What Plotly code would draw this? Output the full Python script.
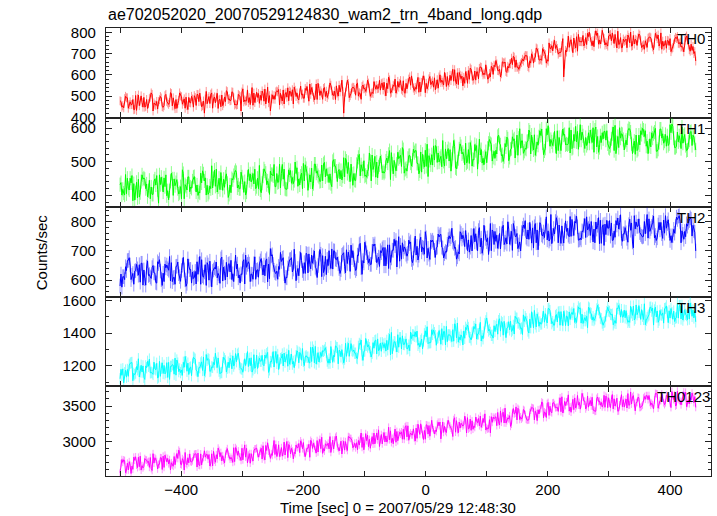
import numpy as np
import plotly.graph_objects as go
from plotly.subplots import make_subplots

# Time (sec), 0 = 2007/05/29 12:48:30.  Samples read on four interleaved grids (1.5 s apart overall).
time_a = np.arange(-500, 443, 6)      # -500 ... 442
time_c = np.arange(-498.5, 440, 6)    # -498.5 ... 437.5
time_b = np.arange(-497, 440, 6)      # -497 ... 439
time_d = np.arange(-495.5, 441, 6)    # -495.5 ... 440.5

th0_a = [478, 445, 492, 460, 438, 505, 470, 452, 488, 430, 475, 498, 455, 468, 512, 441, 480, 462, 495, 470,
         448, 508, 476, 420, 490, 515, 468, 482, 455, 525, 478, 492, 460, 430, 482, 470, 540, 488, 466, 512,
         495, 430, 502, 520, 485, 510, 478, 530, 498, 515, 490, 545, 508, 482, 560, 515, 498, 532, 505, 548,
         520, 420, 575, 512, 530, 500, 545, 522, 538, 512, 550, 528, 565, 535, 518, 580, 542, 525, 560, 590,
         538, 555, 520, 575, 548, 562, 530, 590, 565, 545, 598, 570, 610, 582, 560, 620, 595, 575, 630, 600,
         618, 590, 645, 620, 605, 660, 632, 648, 670, 640, 665, 690, 655, 680, 705, 668, 695, 750, 712, 738,
         705, 590, 730, 765, 742, 790, 755, 775, 800, 760, 785, 745, 770, 735, 760, 790, 742, 728, 768, 750,
         785, 738, 760, 720, 772, 748, 795, 735, 758, 725, 770, 745, 780, 730, 762, 740, 715, 665]
th0_b = [448, 499, 460, 484, 433, 477, 494, 442, 515, 459, 474, 451, 508, 470, 492, 442, 501, 487, 437, 499,
         493, 474, 455, 522, 465, 487, 513, 450, 496, 484, 520, 463, 503, 534, 478, 460, 514, 494, 480, 533,
         469, 506, 520, 458, 529, 495, 519, 542, 488, 506, 536, 476, 523, 557, 503, 536, 493, 551, 523, 500,
         575, 518, 493, 542, 557, 511, 534, 575, 512, 548, 537, 562, 501, 576, 551, 530, 573, 517, 562, 595,
         541, 518, 575, 560, 592, 542, 577, 564, 611, 551, 598, 571, 611, 548, 597, 632, 580, 614, 635, 601,
         582, 635, 667, 626, 657, 611, 652, 683, 637, 658, 691, 633, 688, 726, 670, 710, 671, 724, 762, 697,
         737, 715, 729, 704, 779, 756, 736, 795, 756, 785, 744, 809, 751, 787, 769, 726, 775, 757, 787, 735,
         767, 792, 736, 746, 778, 718, 770, 797, 739, 760, 722, 776, 746, 728, 782, 711, 700]
th0_c = [475, 488, 443, 460, 503, 455, 448, 484, 495, 468, 439, 491, 502, 461, 454, 484, 515, 476, 455, 468,
         502, 507, 450, 486, 498, 443, 495, 485, 467, 521, 480, 458, 508, 519, 476, 493, 457, 518, 504, 476,
         542, 490, 485, 531, 477, 517, 524, 463, 515, 547, 490, 511, 540, 504, 536, 485, 523, 562, 503, 515,
         539, 496, 559, 538, 504, 516, 552, 537, 499, 568, 535, 558, 521, 589, 535, 514, 560, 572, 534, 551,
         526, 588, 564, 516, 581, 571, 555, 600, 552, 592, 573, 624, 554, 594, 615, 579, 574, 614, 637, 608,
         580, 640, 638, 619, 661, 616, 652, 687, 635, 651, 683, 639, 699, 682, 670, 723, 655, 724, 744, 724,
         706, 650, 782, 731, 726, 756, 785, 742, 774, 732, 796, 765, 740, 783, 797, 754, 745, 768, 727, 801,
         745, 773, 728, 760, 776, 731, 781, 747, 735, 762, 709, 767, 748, 734, 775, 718, 733]
th0_d = [455, 492, 473, 436, 488, 501, 448, 464, 508, 457, 483, 447, 475, 516, 454, 466, 497, 443, 494, 486,
         456, 514, 477, 464, 509, 496, 442, 505, 474, 488, 518, 458, 497, 473, 529, 489, 470, 512, 524, 463,
         502, 486, 524, 513, 463, 539, 499, 527, 482, 510, 527, 557, 494, 484, 525, 540, 506, 524, 484, 551,
         522, 543, 502, 540, 561, 485, 537, 561, 518, 533, 574, 529, 561, 514, 546, 569, 532, 513, 580, 560,
         532, 566, 595, 534, 554, 586, 537, 575, 589, 564, 626, 558, 598, 588, 560, 626, 618, 581, 613, 647,
         606, 602, 651, 590, 655, 640, 678, 635, 626, 673, 689, 666, 655, 722, 674, 699, 664, 737, 724, 704,
         770, 707, 755, 773, 711, 756, 747, 780, 737, 807, 763, 776, 742, 789, 747, 805, 727, 761, 776, 737,
         763, 786, 741, 729, 774, 749, 787, 720, 761, 738, 728, 771, 753, 708, 762, 744, 709]

th1_a = [432, 407, 451, 437, 386, 448, 461, 420, 445, 403, 459, 432, 452, 414, 466, 429, 404, 476, 427, 411,
         454, 431, 466, 443, 403, 488, 427, 451, 415, 464, 431, 459, 422, 469, 441, 477, 447, 420, 489, 457,
         432, 472, 492, 438, 465, 420, 476, 453, 465, 431, 495, 466, 440, 493, 459, 490, 455, 438, 501, 472,
         449, 512, 465, 493, 445, 513, 479, 460, 526, 477, 499, 517, 466, 496, 527, 478, 509, 542, 480, 519,
         537, 495, 529, 484, 456, 521, 548, 499, 563, 509, 536, 563, 500, 545, 491, 536, 487, 533, 567, 510,
         497, 554, 531, 575, 518, 554, 503, 574, 541, 598, 525, 560, 523, 580, 549, 597, 540, 581, 548, 524,
         544, 579, 550, 594, 561, 537, 588, 572, 555, 601, 544, 577, 590, 553, 568, 608, 542, 581, 564, 597,
         548, 533, 592, 575, 524, 586, 599, 557, 583, 546, 610, 570, 588, 539, 581, 559, 548, 535]
th1_b = [401, 462, 416, 384, 439, 408, 452, 396, 425, 449, 377, 435, 461, 414, 400, 447, 426, 390, 455, 421,
         434, 411, 473, 401, 428, 450, 410, 468, 424, 394, 450, 474, 420, 438, 410, 464, 434, 451, 408, 472,
         429, 462, 426, 493, 448, 418, 474, 444, 427, 466, 491, 444, 419, 466, 441, 494, 459, 435, 487, 472,
         446, 510, 461, 430, 492, 458, 503, 471, 443, 516, 485, 467, 502, 533, 464, 493, 519, 466, 510, 487,
         533, 464, 522, 486, 504, 547, 498, 516, 487, 539, 507, 482, 538, 528, 496, 557, 505, 478, 536, 515,
         555, 502, 534, 554, 501, 573, 537, 568, 519, 562, 540, 594, 552, 537, 592, 521, 580, 566, 590, 533,
         572, 550, 601, 542, 559, 610, 548, 555, 575, 594, 528, 586, 564, 539, 603, 557, 570, 535, 592, 553,
         522, 579, 599, 546, 568, 583, 531, 597, 561, 548, 612, 542, 577, 555, 533, 588, 572]
th1_c = [438, 401, 421, 459, 408, 395, 448, 434, 390, 442, 417, 454, 426, 387, 449, 438, 408, 465, 416, 425,
         456, 400, 437, 452, 409, 422, 478, 417, 448, 436, 408, 468, 431, 455, 401, 444, 465, 426, 416, 479,
         443, 462, 426, 440, 492, 418, 461, 435, 482, 457, 443, 415, 481, 493, 454, 443, 479, 464, 506, 441,
         474, 455, 498, 463, 444, 522, 472, 454, 501, 489, 452, 500, 471, 522, 493, 473, 514, 536, 472, 496,
         527, 495, 469, 534, 518, 490, 544, 510, 501, 530, 472, 545, 509, 523, 555, 495, 507, 548, 520, 491,
         540, 551, 510, 579, 521, 544, 513, 563, 579, 540, 531, 561, 579, 519, 574, 556, 598, 546, 566, 592,
         533, 581, 553, 539, 605, 564, 577, 548, 594, 528, 575, 557, 590, 542, 583, 524, 601, 566, 550, 588,
         561, 537, 581, 592, 546, 570, 531, 597, 555, 577, 586, 542, 559, 603, 548, 564, 579]
th1_d = [418, 405, 451, 435, 393, 441, 448, 414, 403, 431, 461, 410, 399, 442, 449, 420, 390, 432, 455, 443,
         410, 407, 464, 430, 420, 475, 425, 437, 455, 403, 446, 468, 420, 409, 454, 440, 478, 420, 436, 466,
         403, 458, 465, 422, 478, 440, 436, 499, 449, 420, 480, 461, 435, 473, 443, 498, 462, 426, 487, 477,
         457, 502, 441, 465, 501, 491, 457, 478, 520, 454, 491, 471, 511, 447, 504, 528, 486, 477, 518, 505,
         533, 473, 500, 552, 491, 505, 526, 485, 538, 502, 525, 479, 553, 517, 500, 542, 551, 515, 496, 530,
         566, 513, 523, 550, 515, 568, 539, 511, 570, 562, 537, 588, 535, 559, 578, 532, 607, 559, 546, 572,
         597, 553, 526, 581, 590, 564, 539, 586, 557, 603, 542, 568, 592, 548, 533, 575, 583, 559, 599, 524,
         579, 550, 594, 561, 544, 588, 537, 570, 581, 553, 605, 546, 564, 577, 535, 590, 555]

th2_a = [580, 612, 667, 602, 631, 617, 658, 583, 619, 650, 590, 631, 595, 639, 660, 586, 622, 651, 579, 636,
         606, 663, 586, 628, 652, 577, 638, 615, 597, 661, 628, 595, 655, 622, 587, 663, 620, 603, 656, 618,
         673, 708, 634, 603, 664, 590, 656, 628, 598, 674, 623, 689, 639, 700, 650, 612, 682, 701, 638, 670,
         623, 694, 657, 720, 642, 684, 620, 710, 673, 723, 660, 701, 649, 721, 676, 718, 749, 728, 689, 725,
         675, 716, 747, 689, 709, 731, 678, 748, 710, 696, 742, 726, 680, 760, 715, 738, 700, 759, 780, 710,
         732, 794, 722, 709, 759, 730, 775, 702, 749, 731, 789, 741, 768, 783, 704, 755, 785, 734, 753, 814,
         742, 727, 778, 750, 801, 737, 769, 746, 793, 731, 775, 805, 719, 778, 796, 747, 775, 733, 762, 809,
         711, 784, 756, 801, 744, 784, 753, 798, 743, 778, 736, 774, 808, 728, 767, 798, 751, 700]
th2_b = [576, 646, 677, 623, 654, 593, 635, 666, 606, 624, 657, 582, 642, 681, 608, 648, 596, 635, 673, 590,
         630, 654, 615, 582, 665, 635, 608, 673, 624, 654, 602, 686, 618, 664, 644, 595, 656, 636, 674, 615,
         655, 687, 623, 637, 677, 608, 671, 706, 640, 667, 623, 690, 658, 639, 705, 626, 671, 640, 700, 656,
         685, 625, 678, 701, 639, 726, 659, 679, 654, 724, 679, 707, 649, 721, 702, 645, 719, 714, 692, 671,
         751, 685, 713, 745, 671, 728, 713, 757, 691, 739, 778, 712, 690, 754, 730, 713, 777, 701, 744, 761,
         688, 772, 733, 760, 788, 724, 744, 779, 708, 763, 804, 740, 779, 728, 797, 765, 738, 825, 758, 728,
         786, 803, 749, 776, 819, 744, 787, 772, 801, 728, 814, 782, 756, 804, 737, 789, 824, 759, 730, 796,
         776, 810, 748, 785, 767, 820, 745, 798, 761, 807, 729, 784, 821, 757, 793, 814, 770]
th2_c = [621, 602, 668, 617, 633, 653, 583, 645, 611, 625, 663, 602, 655, 634, 595, 647, 612, 678, 589, 637,
         609, 620, 670, 653, 600, 630, 662, 589, 645, 611, 668, 639, 608, 619, 686, 655, 603, 634, 666, 652,
         594, 683, 626, 647, 675, 610, 670, 638, 626, 695, 660, 625, 686, 644, 674, 684, 619, 661, 701, 679,
         636, 647, 696, 677, 633, 722, 667, 694, 654, 717, 668, 694, 712, 640, 703, 736, 665, 698, 682, 731,
         720, 669, 697, 766, 689, 737, 711, 755, 676, 723, 749, 709, 697, 741, 770, 696, 751, 727, 714, 788,
         745, 701, 767, 731, 777, 745, 723, 794, 760, 700, 777, 772, 727, 794, 743, 751, 817, 741, 777, 796,
         726, 771, 754, 808, 796, 738, 766, 817, 753, 775, 788, 726, 792, 778, 736, 804, 798, 759, 743, 771,
         821, 785, 750, 759, 810, 798, 736, 772, 806, 794, 752, 761, 819, 769, 749, 804, 788]
th2_d = [612, 633, 652, 586, 639, 658, 605, 616, 643, 592, 670, 624, 652, 597, 610, 662, 633, 601, 648, 628,
         587, 681, 610, 660, 603, 643, 623, 679, 601, 657, 622, 639, 590, 670, 654, 621, 680, 610, 642, 667,
         605, 654, 631, 695, 622, 642, 677, 665, 615, 633, 692, 654, 679, 609, 689, 638, 650, 707, 672, 640,
         689, 704, 630, 670, 686, 643, 730, 660, 698, 687, 647, 712, 680, 661, 740, 710, 672, 709, 737, 660,
         686, 735, 710, 676, 737, 702, 758, 713, 698, 752, 731, 672, 766, 744, 701, 753, 731, 770, 692, 743,
         724, 767, 754, 707, 722, 800, 767, 750, 721, 777, 747, 798, 710, 772, 790, 746, 769, 725, 801, 789,
         742, 767, 818, 753, 783, 738, 811, 777, 762, 799, 725, 790, 805, 751, 768, 813, 743, 780, 790, 731,
         799, 763, 750, 825, 777, 745, 789, 759, 821, 770, 752, 816, 801, 740, 785, 809, 764]

th3_a = [1120, 1095, 1177, 1219, 1145, 1243, 1161, 1199, 1241, 1147, 1215, 1135, 1202, 1128, 1196, 1247, 1164, 1141, 1225, 1187,
         1252, 1165, 1217, 1139, 1244, 1193, 1277, 1167, 1219, 1161, 1246, 1198, 1270, 1182, 1243, 1195, 1161, 1193, 1247, 1206,
         1274, 1226, 1192, 1269, 1248, 1223, 1295, 1210, 1261, 1282, 1227, 1252, 1314, 1218, 1281, 1257, 1311, 1241, 1221, 1313,
         1290, 1218, 1313, 1336, 1277, 1319, 1267, 1368, 1311, 1342, 1273, 1340, 1311, 1298, 1405, 1346, 1314, 1384, 1365, 1293,
         1389, 1413, 1355, 1396, 1336, 1421, 1385, 1416, 1360, 1442, 1388, 1351, 1463, 1389, 1369, 1435, 1401, 1457, 1423, 1366,
         1494, 1405, 1446, 1394, 1472, 1426, 1471, 1420, 1493, 1455, 1513, 1472, 1434, 1540, 1494, 1458, 1520, 1551, 1471, 1515,
         1449, 1535, 1502, 1518, 1466, 1562, 1517, 1477, 1554, 1501, 1549, 1493, 1467, 1560, 1514, 1478, 1571, 1499, 1539, 1467,
         1567, 1514, 1485, 1581, 1506, 1536, 1560, 1481, 1525, 1568, 1493, 1536, 1583, 1488, 1545, 1569, 1504, 1470]
th3_b = [1141, 1173, 1205, 1108, 1195, 1163, 1129, 1227, 1160, 1181, 1131, 1218, 1160, 1116, 1204, 1235, 1158, 1191, 1216, 1139,
         1240, 1189, 1171, 1269, 1165, 1220, 1189, 1158, 1243, 1222, 1181, 1275, 1208, 1160, 1244, 1200, 1268, 1183, 1228, 1266,
         1159, 1247, 1288, 1217, 1199, 1270, 1238, 1188, 1284, 1234, 1254, 1220, 1315, 1210, 1252, 1289, 1229, 1318, 1255, 1212,
         1299, 1338, 1258, 1288, 1248, 1331, 1289, 1316, 1254, 1354, 1292, 1342, 1290, 1393, 1327, 1285, 1372, 1330, 1307, 1367,
         1408, 1339, 1304, 1378, 1340, 1419, 1369, 1332, 1410, 1390, 1349, 1448, 1375, 1328, 1423, 1373, 1441, 1395, 1352, 1459,
         1414, 1387, 1442, 1489, 1388, 1432, 1474, 1395, 1463, 1432, 1502, 1401, 1492, 1439, 1469, 1535, 1463, 1492, 1450, 1529,
         1484, 1447, 1531, 1515, 1466, 1556, 1477, 1434, 1521, 1488, 1545, 1463, 1507, 1533, 1452, 1554, 1499, 1542, 1467, 1526,
         1491, 1570, 1505, 1479, 1559, 1450, 1537, 1514, 1551, 1465, 1526, 1493, 1570, 1481, 1509, 1586, 1494]
th3_c = [1178, 1157, 1135, 1220, 1155, 1131, 1199, 1188, 1156, 1222, 1124, 1185, 1150, 1221, 1207, 1142, 1180, 1221, 1166, 1192,
         1247, 1133, 1224, 1164, 1238, 1190, 1220, 1151, 1252, 1185, 1231, 1213, 1277, 1179, 1201, 1246, 1175, 1265, 1228, 1200,
         1282, 1223, 1255, 1177, 1272, 1250, 1209, 1227, 1292, 1273, 1201, 1253, 1226, 1319, 1223, 1293, 1283, 1216, 1264, 1311,
         1255, 1241, 1338, 1294, 1277, 1337, 1233, 1326, 1287, 1308, 1365, 1289, 1337, 1366, 1274, 1318, 1372, 1332, 1303, 1407,
         1381, 1326, 1364, 1415, 1343, 1393, 1326, 1387, 1411, 1348, 1378, 1458, 1345, 1377, 1436, 1376, 1408, 1364, 1467, 1407,
         1437, 1387, 1411, 1477, 1464, 1373, 1421, 1448, 1492, 1428, 1473, 1414, 1532, 1458, 1443, 1502, 1480, 1539, 1449, 1469,
         1533, 1506, 1445, 1528, 1492, 1550, 1460, 1504, 1525, 1478, 1572, 1489, 1471, 1537, 1517, 1461, 1548, 1501, 1490, 1566,
         1481, 1528, 1545, 1452, 1513, 1555, 1500, 1540, 1462, 1529, 1552, 1472, 1493, 1571, 1516, 1487, 1544]
th3_d = [1181, 1130, 1215, 1153, 1175, 1203, 1116, 1197, 1156, 1175, 1227, 1152, 1219, 1196, 1148, 1216, 1174, 1257, 1146, 1209,
         1174, 1188, 1254, 1233, 1169, 1207, 1248, 1158, 1230, 1188, 1261, 1225, 1188, 1203, 1287, 1249, 1184, 1223, 1264, 1247,
         1175, 1287, 1215, 1243, 1278, 1197, 1272, 1233, 1218, 1306, 1262, 1217, 1295, 1242, 1282, 1296, 1216, 1269, 1322, 1295,
         1243, 1258, 1321, 1297, 1244, 1358, 1291, 1329, 1277, 1358, 1298, 1333, 1356, 1267, 1348, 1391, 1303, 1346, 1327, 1390,
         1378, 1315, 1353, 1440, 1343, 1403, 1373, 1428, 1328, 1390, 1422, 1372, 1359, 1414, 1450, 1359, 1428, 1397, 1384, 1476,
         1423, 1370, 1455, 1413, 1473, 1436, 1411, 1504, 1464, 1392, 1489, 1487, 1433, 1519, 1456, 1468, 1552, 1459, 1507, 1532,
         1447, 1506, 1485, 1552, 1536, 1462, 1496, 1560, 1481, 1508, 1526, 1449, 1533, 1516, 1464, 1550, 1545, 1495, 1477, 1510,
         1574, 1528, 1485, 1495, 1560, 1543, 1467, 1511, 1554, 1538, 1486, 1496, 1570, 1507, 1483, 1553, 1535]

th0123_a = [2560, 2741, 2694, 2548, 2735, 2778, 2659, 2742, 2635, 2828, 2716, 2772, 2634, 2761, 2700, 2672, 2878, 2758, 2690, 2825,
            2784, 2639, 2825, 2869, 2750, 2826, 2707, 2874, 2800, 2864, 2751, 2912, 2805, 2732, 2952, 2807, 2768, 2896, 2830, 2940,
            2873, 2761, 3014, 2837, 2914, 2809, 2957, 2864, 2949, 2843, 2985, 2906, 3016, 2931, 2852, 3060, 2968, 2896, 3019, 3077,
            2920, 3004, 2873, 3042, 2976, 3014, 2916, 3111, 3030, 2962, 3120, 3026, 3126, 3026, 2984, 3175, 3094, 3032, 3223, 3090,
            3178, 3044, 3249, 3155, 3104, 3299, 3157, 3222, 3275, 3126, 3217, 3309, 3166, 3258, 3356, 3174, 3292, 3344, 3221, 3326,
            3197, 3122, 3321, 3410, 3271, 3470, 3318, 3400, 3488, 3310, 3451, 3299, 3441, 3305, 3448, 3558, 3401, 3368, 3544, 3479,
            3616, 3453, 3563, 3412, 3615, 3513, 3678, 3459, 3558, 3443, 3608, 3512, 3651, 3477, 3596, 3500, 3431, 3491, 3598, 3515,
            3647, 3551, 3482, 3634, 3590, 3540, 3679, 3511, 3611, 3652, 3544, 3591, 3710, 3517, 3636, 3585, 3684, 3480]
th0123_b = [2745, 2560, 2715, 2608, 2665, 2793, 2648, 2705, 2618, 2771, 2678, 2605, 2772, 2744, 2650, 2830, 2679, 2597, 2770, 2710,
            2825, 2667, 2756, 2813, 2654, 2861, 2754, 2844, 2698, 2820, 2753, 2914, 2788, 2741, 2903, 2693, 2868, 2828, 2904, 2741,
            2863, 2803, 2959, 2788, 2845, 3001, 2824, 2848, 2913, 2976, 2786, 2961, 2902, 2836, 3030, 2899, 2944, 2845, 3020, 2909,
            2823, 2998, 3062, 2911, 2982, 3034, 2883, 3090, 2995, 2966, 3164, 2966, 3079, 3024, 2968, 3141, 3104, 3030, 3221, 3094,
            3006, 3178, 3096, 3236, 3074, 3166, 3244, 3037, 3214, 3299, 3163, 3131, 3274, 3217, 3120, 3316, 3218, 3265, 3200, 3390,
            3183, 3270, 3347, 3233, 3413, 3293, 3213, 3387, 3468, 3316, 3379, 3305, 3473, 3394, 3453, 3334, 3536, 3418, 3521, 3424,
            3631, 3507, 3428, 3595, 3506, 3456, 3568, 3642, 3501, 3424, 3563, 3487, 3639, 3537, 3460, 3611, 3568, 3485, 3676, 3528,
            3432, 3617, 3514, 3647, 3551, 3462, 3672, 3577, 3520, 3620, 3706, 3500, 3580, 3653, 3492, 3618, 3547]
th0123_c = [2688, 2731, 2598, 2653, 2784, 2644, 2627, 2737, 2774, 2694, 2612, 2769, 2807, 2685, 2668, 2760, 2857, 2734, 2672, 2716,
            2819, 2836, 2669, 2779, 2816, 2656, 2813, 2785, 2735, 2899, 2777, 2716, 2867, 2905, 2779, 2829, 2724, 2906, 2866, 2785,
            2982, 2828, 2816, 2953, 2793, 2916, 2936, 2755, 2914, 3009, 2837, 2903, 2993, 2887, 2986, 2832, 2949, 3069, 2894, 2933,
            3004, 2878, 3070, 3009, 2910, 2949, 3059, 3011, 2904, 3118, 3022, 3098, 2993, 3201, 3045, 2989, 3130, 3173, 3065, 3120,
            3051, 3244, 3175, 3032, 3225, 3193, 3140, 3274, 3128, 3246, 3187, 3335, 3123, 3242, 3303, 3190, 3173, 3291, 3358, 3267,
            3175, 3350, 3340, 3278, 3400, 3260, 3364, 3465, 3304, 3348, 3439, 3303, 3480, 3426, 3388, 3544, 3338, 3497, 3548, 3483,
            3420, 3565, 3658, 3497, 3472, 3552, 3629, 3490, 3579, 3443, 3628, 3552, 3482, 3616, 3662, 3538, 3516, 3590, 3472, 3699,
            3536, 3625, 3495, 3596, 3649, 3519, 3674, 3577, 3546, 3632, 3478, 3657, 3605, 3567, 3695, 3532, 3638]
th0123_d = [2706, 2599, 2664, 2779, 2631, 2596, 2759, 2719, 2591, 2751, 2678, 2793, 2714, 2598, 2788, 2760, 2671, 2845, 2699, 2728,
            2825, 2659, 2774, 2821, 2693, 2737, 2906, 2725, 2822, 2788, 2705, 2890, 2780, 2857, 2698, 2829, 2895, 2780, 2752, 2944,
            2838, 2894, 2789, 2833, 2991, 2772, 2903, 2827, 2971, 2898, 2858, 2777, 2975, 3013, 2899, 2865, 2976, 2931, 3059, 2867,
            2965, 2911, 3043, 2937, 2883, 3120, 2972, 2927, 3069, 3037, 2929, 3077, 2993, 3150, 3066, 3010, 3136, 3206, 3017, 3093,
            3189, 3100, 3028, 3230, 3186, 3106, 3272, 3175, 3149, 3240, 3070, 3293, 3189, 3236, 3336, 3157, 3197, 3324, 3244, 3162,
            3307, 3344, 3223, 3431, 3262, 3332, 3244, 3399, 3451, 3336, 3313, 3408, 3468, 3294, 3466, 3418, 3551, 3404, 3476, 3567,
            3402, 3559, 3487, 3449, 3649, 3528, 3569, 3484, 3624, 3428, 3571, 3519, 3620, 3478, 3602, 3427, 3660, 3557, 3511, 3627,
            3548, 3478, 3612, 3647, 3511, 3585, 3470, 3670, 3546, 3614, 3643, 3513, 3566, 3699, 3536, 3586, 3632]

band_names = ["TH0", "TH1", "TH2", "TH3", "TH0123"]
series = [[th0_a, th0_c, th0_b, th0_d], [th1_a, th1_c, th1_b, th1_d], [th2_a, th2_c, th2_b, th2_d],
          [th3_a, th3_c, th3_b, th3_d], [th0123_a, th0123_c, th0123_b, th0123_d]]
err_sizes = [21, 21, 25, 35, 54]          # typical 1-sigma error bar per band
colors = ["#ff0000", "#00ff00", "#0000ff", "#00ffff", "#ff00ff"]
pale = ["rgba(255,0,0,0.42)", "rgba(0,255,0,0.45)", "rgba(0,0,255,0.42)",
        "rgba(0,255,255,0.45)", "rgba(255,0,255,0.42)"]
y_ranges = [[399, 820], [365, 631], [543, 850], [1073, 1624], [2513, 3777]]
y_major = [100, 100, 100, 200, 500]
y_minor = [20, 20, 20, 100, 100]
label_x = [0.9405, 0.9405, 0.9405, 0.9405, 0.9074]

FONT = "Liberation Sans, Arial, Helvetica, sans-serif"

# merge the four sample grids into one time-ordered light curve per band
t_all = np.concatenate([time_a, time_c, time_b, time_d])
order = np.argsort(t_all, kind="stable")
t_sorted = t_all[order]

fig = make_subplots(rows=5, cols=1, shared_xaxes=True, vertical_spacing=0)

for k in range(5):
    r = k + 1
    y_sorted = np.concatenate(series[k])[order]
    fig.add_trace(go.Scatter(x=t_sorted, y=y_sorted, mode="lines",
                             line=dict(color=colors[k], width=1.0), name=band_names[k],
                             error_y=dict(type="constant", value=err_sizes[k], color=pale[k],
                                          thickness=1, width=0)),
                  row=r, col=1)
    fig.update_yaxes(range=y_ranges[k], dtick=y_major[k], tick0=0,
                     ticks="inside", ticklen=6, tickwidth=1, tickcolor="#222",
                     minor=dict(dtick=y_minor[k], tick0=0, ticks="inside", ticklen=3,
                                tickcolor="#222", tickwidth=1),
                     showline=True, linecolor="#222", linewidth=1.3, mirror="allticks",
                     showgrid=False, zeroline=False, ticklabelstandoff=6,
                     tickfont=dict(family=FONT, size=15, color="#000"),
                     row=r, col=1)
    fig.update_xaxes(range=[-523, 467], dtick=200, tick0=0,
                     ticks="inside", ticklen=5, tickwidth=1, tickcolor="#222",
                     minor=dict(dtick=100, tick0=0, ticks="inside", ticklen=5,
                                tickcolor="#222", tickwidth=1),
                     showline=True, linecolor="#222", linewidth=1.3, mirror="allticks",
                     showgrid=False, zeroline=False,
                     tickfont=dict(family=FONT, size=15, color="#000"),
                     row=r, col=1)
    yref = "y" if r == 1 else "y%d" % r
    fig.add_annotation(text=band_names[k], xref="paper", yref=yref + " domain",
                       x=label_x[k], y=0.883, xanchor="left", yanchor="middle",
                       showarrow=False, font=dict(family=FONT, size=15, color="#000"))

fig.add_annotation(text="ae702052020_20070529124830_wam2_trn_4band_long.qdp",
                   xref="paper", yref="paper", x=0.0, y=1.029, xanchor="left", yanchor="middle",
                   showarrow=False, font=dict(family=FONT, size=16, color="#000"))
fig.add_annotation(text="Counts/sec", xref="paper", yref="paper", x=-0.107, y=0.5,
                   textangle=-90, xanchor="center", yanchor="middle", showarrow=False,
                   font=dict(family=FONT, size=15, color="#000"))
fig.add_annotation(text="Time [sec] 0 = 2007/05/29 12:48:30", xref="paper", yref="paper",
                   x=0.482, y=0.0, yshift=-21, xanchor="center", yanchor="top", showarrow=False,
                   font=dict(family=FONT, size=15, color="#000"))

fig.update_layout(width=717, height=516, margin=dict(l=106, r=6, t=28, b=40),
                  plot_bgcolor="white", paper_bgcolor="white", showlegend=False,
                  font=dict(family=FONT, size=15, color="#000"))

fig.write_html("out.html", config={"displayModeBar": False},
               post_script="document.body.style.margin='0px';")
